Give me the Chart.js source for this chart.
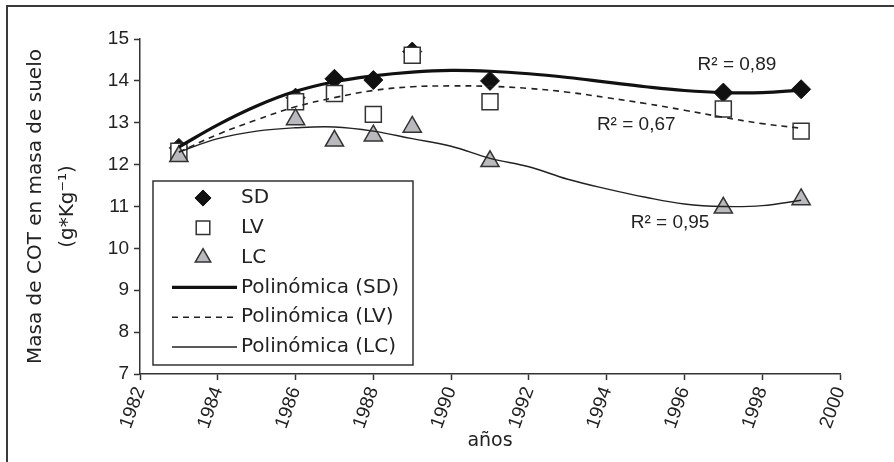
<!DOCTYPE html>
<html>
<head>
<meta charset="utf-8">
<script src="https://cdn.jsdelivr.net/npm/chart.js@4.4.1/dist/chart.umd.min.js"></script>
<style>
html, body { margin: 0; padding: 0; background: #fff; }
#wrap { width: 894px; height: 462px; position: relative; }
</style>
</head>
<body>
<div id="wrap"><canvas id="grafCOT" width="894" height="462"></canvas></div>
<script>
// años de muestreo
var anios = [1983, 1986, 1987, 1988, 1989, 1991, 1997, 1999];
// masa de COT (g*Kg-1) por sistema
var valSD = [12.4, 13.6, 14.05, 14.02, 14.7, 14.0, 13.72, 13.8];
var valLV = [12.32, 13.5, 13.7, 13.2, 14.61, 13.5, 13.33, 12.8];
var valLC = [12.2, 13.08, 12.57, 12.69, 12.9, 12.08, 10.97, 11.17];

// líneas de tendencia polinómica
var aniosTend = [1983, 1984, 1985, 1986, 1987, 1988, 1989, 1990, 1991, 1992, 1993, 1994, 1995, 1996, 1997, 1998, 1999];
var tendSD = [12.42, 12.95, 13.4, 13.75, 13.98, 14.12, 14.21, 14.25, 14.23, 14.17, 14.08, 13.97, 13.86, 13.77, 13.72, 13.72, 13.78];
var tendLV = [12.3, 12.72, 13.07, 13.38, 13.6, 13.77, 13.86, 13.88, 13.87, 13.82, 13.73, 13.6, 13.46, 13.3, 13.13, 12.98, 12.87];
var tendLC = [12.3, 12.62, 12.8, 12.88, 12.9, 12.8, 12.62, 12.44, 12.15, 11.95, 11.65, 11.42, 11.22, 11.06, 11.0, 11.02, 11.15];

var textosR2 = ['R\u00b2 = 0,89', 'R\u00b2 = 0,67', 'R\u00b2 = 0,95'];

function pares(xs, ys) {
    var out = [];
    for (var i = 0; i < xs.length; i++) out.push({x: xs[i], y: ys[i]});
    return out;
}

var marco = {
    id: 'marco',
    beforeDraw: function (chart) {
        var ctx = chart.ctx;
        ctx.save();
        ctx.strokeStyle = '#3a3a3a';
        ctx.lineWidth = 2;
        ctx.beginPath();
        ctx.moveTo(7, 470);
        ctx.lineTo(7, 6);
        ctx.lineTo(900, 6);
        ctx.stroke();
        ctx.restore();
    }
};

var etiquetasR2 = {
    id: 'etiquetasR2',
    afterDatasetsDraw: function (chart, args, opts) {
        var ctx = chart.ctx;
        var sx = chart.scales.x, sy = chart.scales.y;
        ctx.save();
        ctx.font = opts.font;
        ctx.fillStyle = '#222';
        ctx.textAlign = 'center';
        ctx.textBaseline = 'middle';
        opts.pos.forEach(function (p, i) {
            ctx.fillText(textosR2[i], sx.getPixelForValue(p[0]), sy.getPixelForValue(p[1]));
        });
        ctx.restore();
    }
};

var leyendaCaja = {
    id: 'leyendaCaja',
    afterDatasetsDraw: function (chart, args, opts) {
        var ctx = chart.ctx;
        ctx.save();
        ctx.fillStyle = '#fff';
        ctx.fillRect(opts.x, opts.y, opts.w, opts.h);
        ctx.strokeStyle = '#333';
        ctx.lineWidth = 1.5;
        ctx.strokeRect(opts.x, opts.y, opts.w, opts.h);
        ctx.font = opts.font;
        ctx.textBaseline = 'middle';
        var ds = chart.data.datasets.slice().sort(function (a, b) { return a.leyenda - b.leyenda; });
        ds.forEach(function (d, i) {
            var y = opts.y + opts.primera + i * opts.paso;
            if (d.showLine === false) {
                ctx.fillStyle = d.backgroundColor;
                ctx.strokeStyle = d.borderColor;
                ctx.lineWidth = d.borderWidth;
                Chart.helpers.drawPoint(ctx, {
                    pointStyle: d.pointStyle,
                    radius: d.pointRadius * 0.85,
                    rotation: 0,
                    borderWidth: d.borderWidth
                }, opts.xMarca, y);
            } else {
                ctx.strokeStyle = d.borderColor;
                ctx.lineWidth = d.borderWidth;
                ctx.setLineDash(d.borderDash || []);
                ctx.beginPath();
                ctx.moveTo(opts.xLinea0, y);
                ctx.lineTo(opts.xLinea1, y);
                ctx.stroke();
                ctx.setLineDash([]);
            }
            ctx.fillStyle = '#222';
            ctx.fillText(d.label, opts.xTexto, y);
        });
        ctx.restore();
    }
};

var ctx = document.getElementById('grafCOT').getContext('2d');
var graf = new Chart(ctx, {
    type: 'scatter',
    data: {
        datasets: [{
            label: 'Polinómica (SD)',
            leyenda: 3,
            data: pares(aniosTend, tendSD),
            showLine: true,
            borderColor: '#111',
            borderWidth: 3.2,
            pointRadius: 0,
            tension: 0.4
        }, {
            label: 'Polinómica (LV)',
            leyenda: 4,
            data: pares(aniosTend, tendLV),
            showLine: true,
            borderColor: '#222',
            borderWidth: 1.6,
            borderDash: [6, 5],
            pointRadius: 0,
            tension: 0.4
        }, {
            label: 'Polinómica (LC)',
            leyenda: 5,
            data: pares(aniosTend, tendLC),
            showLine: true,
            borderColor: '#222',
            borderWidth: 1.4,
            pointRadius: 0,
            tension: 0.4
        }, {
            label: 'LC',
            leyenda: 2,
            data: pares(anios, valLC),
            showLine: false,
            pointStyle: 'triangle',
            pointRadius: 10.5,
            backgroundColor: '#b9babe',
            borderColor: '#333',
            borderWidth: 1.5
        }, {
            label: 'LV',
            leyenda: 1,
            data: pares(anios, valLV),
            showLine: false,
            pointStyle: 'rect',
            pointRadius: 11.3,
            backgroundColor: '#fff',
            borderColor: '#333',
            borderWidth: 1.5
        }, {
            label: 'SD',
            leyenda: 0,
            data: pares(anios, valSD),
            showLine: false,
            pointStyle: 'rectRot',
            pointRadius: 9.5,
            backgroundColor: '#111',
            borderColor: '#111',
            borderWidth: 1
        }]
    },
    options: {
        responsive: false,
        animation: false,
        layout: {
            padding: {left: 0, top: 39, right: 54, bottom: 0}
        },
        scales: {
            x: {
                type: 'linear',
                min: 1982,
                max: 2000,
                afterFit: function (s) { s.height = 88; },
                ticks: {
                    stepSize: 2,
                    maxRotation: 70,
                    minRotation: 70,
                    padding: 4,
                    color: '#222',
                    font: {family: 'Liberation Sans', size: 19},
                    callback: function (v) { return String(v); }
                },
                grid: {
                    display: true,
                    drawOnChartArea: false,
                    drawTicks: true,
                    tickLength: 6,
                    tickColor: '#333',
                    tickWidth: 1.5
                },
                border: {display: true, color: '#333', width: 1.5},
                title: {
                    display: true,
                    text: 'años',
                    color: '#222',
                    font: {family: 'DejaVu Sans', size: 19},
                    padding: {top: 0, bottom: 10}
                }
            },
            y: {
                min: 7,
                max: 15,
                afterFit: function (s) { s.width = 140; },
                ticks: {
                    stepSize: 1,
                    padding: 5,
                    color: '#222',
                    font: {family: 'Liberation Sans', size: 19}
                },
                grid: {
                    display: true,
                    drawOnChartArea: false,
                    drawTicks: true,
                    tickLength: 6,
                    tickColor: '#333',
                    tickWidth: 1.5
                },
                border: {display: true, color: '#333', width: 1.5},
                title: {
                    display: true,
                    text: ['Masa de COT en masa de suelo', '(g*Kg\u207b\u00b9)'],
                    color: '#222',
                    font: {family: 'DejaVu Sans', size: 20, lineHeight: 1.6},
                    padding: {top: 20, bottom: 0}
                }
            }
        },
        plugins: {
            legend: {display: false},
            tooltip: {enabled: false},
            leyendaCaja: {
                x: 153, y: 181, w: 260, h: 184,
                primera: 17, paso: 29.8,
                xMarca: 203, xLinea0: 172, xLinea1: 237, xTexto: 241,
                font: '20px "DejaVu Sans"'
            },
            etiquetasR2: {
                font: '19px "Liberation Sans"',
                pos: [[1997.35, 14.39], [1994.76, 12.95], [1995.63, 10.62]]
            }
        }
    },
    plugins: [marco, leyendaCaja, etiquetasR2]
});
</script>
</body>
</html>
